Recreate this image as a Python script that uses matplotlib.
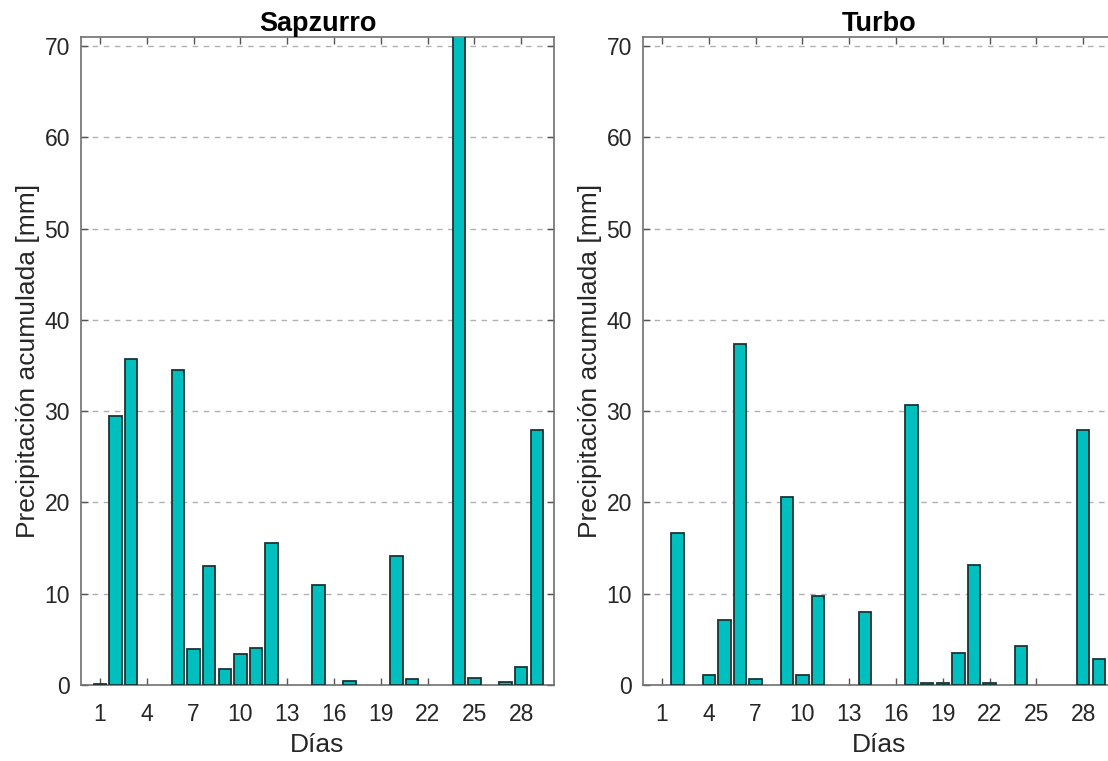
import matplotlib
matplotlib.use('Agg')
import matplotlib.pyplot as plt
import numpy as np

plt.rcParams['font.family'] = ['Liberation Sans', 'DejaVu Sans']

days = np.arange(1, 30)
# precipitacion diaria acumulada [mm]
sapzurro = [0.15, 29.5, 35.7, 0, 0, 34.5, 3.9, 13.0, 1.7, 3.4,
            4.0, 15.6, 0, 0, 11.0, 0, 0.4, 0, 0, 14.1,
            0.7, 0, 0, 80.0, 0.8, 0, 0.3, 2.0, 27.9]
turbo = [0, 16.7, 0, 1.1, 7.1, 37.4, 0.7, 0, 20.6, 1.1,
         9.7, 0, 0, 8.0, 0, 0, 30.7, 0.2, 0.2, 3.5,
         13.1, 0.2, 0, 4.3, 0, 0, 0, 27.9, 2.9]
titles = ['Sapzurro', 'Turbo']
xticks = [1, 4, 7, 10, 13, 16, 19, 22, 25, 28]
yticks = [0, 10, 20, 30, 40, 50, 60, 70]

fig = plt.figure(figsize=(11.08, 7.61), dpi=100)
W, H = 1108, 761
ax_left = fig.add_axes([81 / W, 76 / H, 473 / W, 648 / H])
# right panel runs past the figure edge, as in the cropped original
ax_right = fig.add_axes([643 / W, 76 / H, 473 / W, 648 / H])

for ax, vals, title in zip([ax_left, ax_right], [sapzurro, turbo], titles):
    vals = np.array(vals)
    m = vals > 0
    ax.bar(days[m], vals[m], width=0.8, color='#00bfbf', edgecolor='#1c3434',
           linewidth=1.3, zorder=3)
    ax.set_xlim(-0.22, 30.1)
    ax.set_ylim(0, 71)
    ax.set_xticks(xticks)
    ax.set_yticks(yticks)
    ax.yaxis.grid(True, linestyle=(0, (4, 4)), color='#b0b0b0', linewidth=1.0, zorder=0)
    ax.tick_params(direction='in', length=5, width=1, color='#555555',
                   top=True, right=True, labelsize=16.5, labelcolor='#262626')
    ax.tick_params(axis='x', pad=13)
    ax.tick_params(axis='y', pad=8)
    for s in ax.spines.values():
        s.set_color('#707070')
        s.set_linewidth(1.2)
    ax.set_title(title, fontsize=19.5, fontweight='bold', pad=4)
    ax.set_xlabel('Días', fontsize=19, color='#262626', labelpad=5)
    ax.set_ylabel('Precipitación acumulada [mm]', fontsize=19, color='#262626', labelpad=3)

fig.savefig('out.png', dpi=100)
